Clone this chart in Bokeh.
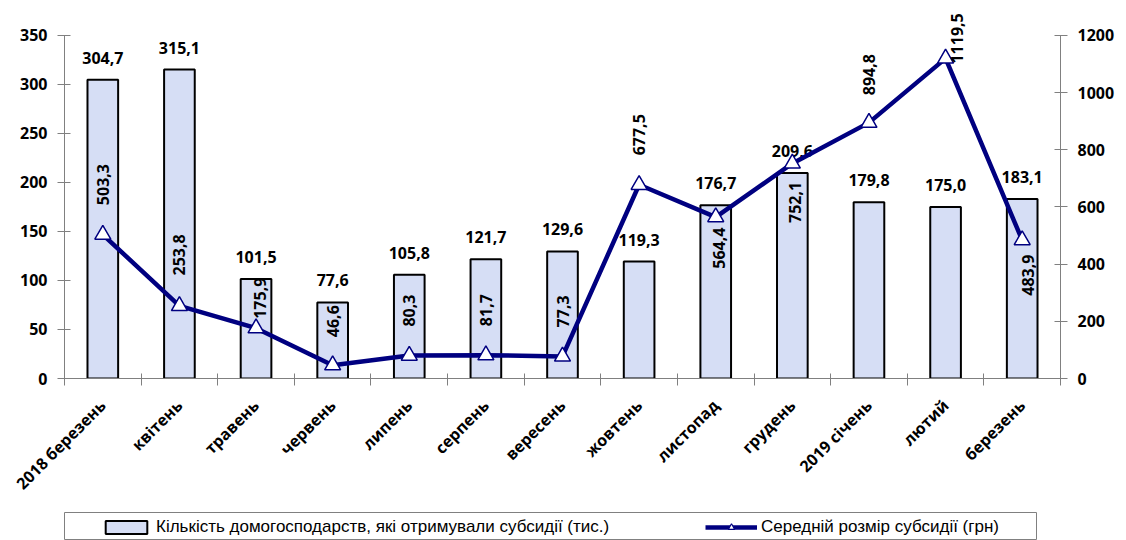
from math import pi
import numpy as np
from bokeh.plotting import figure
from bokeh.models import (Range1d, LinearAxis, FixedTicker,
                          Legend, LegendItem, ColumnDataSource, CustomJSTickFormatter)
from bokeh.layouts import column
from bokeh.core.properties import value
from bokeh.embed import file_html
from bokeh.resources import INLINE

# ---------------- data ----------------
months = ["2018 березень", "квітень", "травень", "червень", "липень", "серпень", "вересень",
          "жовтень", "листопад", "грудень", "2019 січень", "лютий", "березень"]
households = [304.7, 315.1, 101.5, 77.6, 105.8, 121.7, 129.6, 119.3, 176.7, 209.6, 179.8, 175.0, 183.1]
avg_subsidy = [503.3, 253.8, 175.9, 46.6, 80.3, 81.7, 77.3, 677.5, 564.4, 752.1, 894.8, 1119.5, 483.9]
left_ticks = [0, 50, 100, 150, 200, 250, 300, 350]
right_ticks = [0, 200, 400, 600, 800, 1000, 1200]
bar_legend = "Кількість домогосподарств, які отримували субсидії (тис.)"
line_legend = "Середній розмір субсидії (грн)"

# label placement style (screen pixel offsets for the line value labels)
lab_dx = [0, 0, 4, 0, 0, 0, 0, 0, 3, 3, 0, 11, 6]
lab_dy = [-50, -51, -30, -44, -45, -45, -45, -50, 31, 39, -48, -20, 35]

def fmt(v):
    return f"{v:.1f}".replace(".", ",")

FONT_NAME = "Open Sans"
FONT = value(FONT_NAME)
AX = "#808080"
BAR_FILL = "#D6DEF5"
NAVY = "#000080"

n = len(months)
centers = [i + 0.5 for i in range(n)]   # category slot centres on the index scale

src = ColumnDataSource(dict(
    x=centers, h=households, s=avg_subsidy,
    hl=[fmt(v) for v in households], sl=[fmt(v) for v in avg_subsidy],
    dx=lab_dx, dy=lab_dy,
))

# frame: 10px headroom above the 350 / 1200 tick so the top value labels are not clipped
L_MAX, R_MAX = 350, 1200
HEAD = 370 / 345
p = figure(width=1122, height=504, x_range=Range1d(0, n),
           y_range=Range1d(0, L_MAX * HEAD), output_backend="svg", toolbar_location=None,
           x_axis_location=None, y_axis_location=None,
           min_border_left=64, min_border_right=62, min_border_top=10, min_border_bottom=124)
p.extra_y_ranges = {"right": Range1d(0, R_MAX * HEAD)}
p.outline_line_color = None
p.xgrid.visible = False
p.ygrid.visible = False

def style_y(ax, ticks, top):
    ax.ticker = FixedTicker(ticks=ticks)
    ax.bounds = (0, top)
    ax.axis_line_color = AX
    ax.major_tick_line_color = AX
    ax.minor_tick_line_color = None
    ax.major_tick_in = 6
    ax.major_tick_out = 7
    ax.major_label_text_font = FONT_NAME
    ax.major_label_text_font_style = "bold"
    ax.major_label_text_font_size = "16px"
    ax.major_label_text_color = "black"
    ax.major_label_standoff = 10

yl = LinearAxis()
style_y(yl, left_ticks, L_MAX)
p.add_layout(yl, "left")
yr = LinearAxis(y_range_name="right")
style_y(yr, right_ticks, R_MAX)
p.add_layout(yr, "right")

# category boundary ticks
xt = LinearAxis(ticker=FixedTicker(ticks=list(range(n + 1))),
                formatter=CustomJSTickFormatter(code="return ''"))
xt.axis_line_color = AX
xt.major_tick_line_color = AX
xt.minor_tick_line_color = None
xt.major_tick_in = 5
xt.major_tick_out = 7
xt.major_label_text_font_size = "0px"
xt.major_label_standoff = 0
p.add_layout(xt, "below")

# category labels
xc = LinearAxis(ticker=FixedTicker(ticks=centers),
                formatter=CustomJSTickFormatter(args=dict(labels=months),
                                                code="return labels[Math.floor(tick)]"))
xc.axis_line_color = None
xc.major_tick_line_color = None
xc.minor_tick_line_color = None
xc.major_tick_out = 0
xc.major_tick_in = 0
xc.major_label_orientation = pi / 4
xc.major_label_text_font = FONT_NAME
xc.major_label_text_font_style = "bold"
xc.major_label_text_font_size = "16px"
xc.major_label_text_color = "black"
xc.major_label_standoff = 17
p.add_layout(xc, "below")

bars = p.vbar(x="x", top="h", width=0.4, source=src, fill_color=BAR_FILL,
              line_color="black", line_width=2)
p.text(x="x", y="h", text="hl", source=src, y_offset=-22, text_align="center",
       text_baseline="middle", text_font=FONT, text_font_style="bold",
       text_font_size="16px", text_color="black")

ln = p.line(x="x", y="s", source=src, y_range_name="right", line_color=NAVY, line_width=4.5)
mk = p.scatter(x="x", y="s", source=src, y_range_name="right", marker="triangle", size=16,
               fill_color="white", line_color=NAVY, line_width=1.5)
p.text(x="x", y="s", text="sl", source=src, y_range_name="right", angle=pi / 2,
       x_offset="dx", y_offset="dy", text_align="center", text_baseline="middle",
       text_font=FONT, text_font_style="bold", text_font_size="16px", text_color="black")

# ---------------- legend box (separate strip; its frame outline is the box) ----------------
p2 = figure(width=1098, height=36, x_range=Range1d(0, 1), y_range=Range1d(0, 1),
            output_backend="svg", toolbar_location=None, x_axis_location=None,
            y_axis_location=None, min_border_left=64, min_border_right=62,
            min_border_top=8, min_border_bottom=0)
p2.xgrid.visible = False
p2.ygrid.visible = False
p2.outline_line_color = AX
p2.outline_line_width = 1

# legend-only proxies (NaN -> nothing drawn in the strip, only the legend swatches)
proxy = ColumnDataSource(dict(x=np.array([np.nan]), y=np.array([np.nan])))
rb = p2.vbar(x="x", top="y", width=0.1, source=proxy, fill_color=BAR_FILL,
             line_color="black", line_width=2)
rl = p2.line(x="x", y="y", source=proxy, line_color=NAVY, line_width=4.5)
rs = p2.scatter(x="x", y="y", source=proxy, marker="triangle", fill_color="white",
                line_color=NAVY, line_width=1.2)

leg = Legend(items=[LegendItem(label=bar_legend, renderers=[rb]),
                    LegendItem(label=line_legend, renderers=[rl, rs])],
             orientation="horizontal", location=(36, 3), padding=0, margin=0,
             spacing=4, glyph_width=52, glyph_height=16, label_width=545, label_standoff=4,
             border_line_color=None, background_fill_alpha=0,
             label_text_font="Liberation Sans", label_text_font_size="17px",
             label_text_color="black")
p2.add_layout(leg, "center")

layout = column(p, p2, spacing=0)
open("out.html", "w").write(file_html(layout, INLINE))
